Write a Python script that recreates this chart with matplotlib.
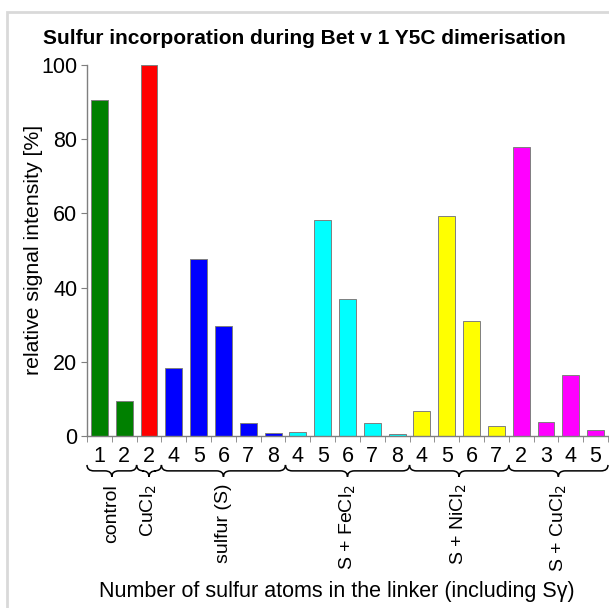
import numpy as np
import matplotlib.pyplot as plt
from matplotlib.path import Path
from matplotlib.patches import PathPatch, Rectangle

plt.rcParams['font.family'] = ['Liberation Sans', 'DejaVu Sans']

# groups of the experiment
groups = ['control', 'CuCl$_2$', 'sulfur (S)', 'S + FeCl$_2$', 'S + NiCl$_2$', 'S + CuCl$_2$']
group_colors = ['#008000', '#ff0000', '#0000ff', '#00ffff', '#ffff00', '#ff00ff']

# number of sulfur atoms for each bar, per group
control_n = ['1', '2']
cucl2_n = ['2']
sulfur_n = ['4', '5', '6', '7', '8']
fecl2_n = ['4', '5', '6', '7', '8']
nicl2_n = ['4', '5', '6', '7']
s_cucl2_n = ['2', '3', '4', '5']

# relative signal intensity [%]
control_vals = [90.7, 9.3]
cucl2_vals = [100.0]
sulfur_vals = [18.3, 47.8, 29.6, 3.5, 0.9]
fecl2_vals = [1.0, 58.2, 36.8, 3.6, 0.5]
nicl2_vals = [6.8, 59.4, 31.0, 2.8]
s_cucl2_vals = [78.0, 3.9, 16.5, 1.7]

all_n = [control_n, cucl2_n, sulfur_n, fecl2_n, nicl2_n, s_cucl2_n]
all_vals = [control_vals, cucl2_vals, sulfur_vals, fecl2_vals, nicl2_vals, s_cucl2_vals]

labels, values, colors, spans = [], [], [], []
for n, v, c in zip(all_n, all_vals, group_colors):
    start = len(labels)
    labels += n
    values += v
    colors += [c] * len(v)
    spans.append((start - 0.5, len(labels) - 0.5))

fig = plt.figure(figsize=(6.09, 6.08), dpi=100)
ax = fig.add_axes([87 / 609, 1 - 436 / 608, 521 / 609, 371 / 608])

x = np.arange(len(values))
ax.bar(x, values, width=0.68, color=colors, edgecolor='#7f7f7f', linewidth=0.7)

ax.set_xlim(-0.5, len(values) - 0.5)
ax.set_ylim(0, 100)
ax.set_yticks([0, 20, 40, 60, 80, 100])
ax.set_xticks(x)
ax.set_xticklabels(labels)
ax.set_xticks(np.arange(len(values) + 1) - 0.5, minor=True)
ax.tick_params(axis='x', which='major', length=0, pad=7, labelsize=15.5)
ax.tick_params(axis='x', which='minor', length=4, color='#7f7f7f', direction='out')
ax.tick_params(axis='y', length=4, color='#7f7f7f', labelsize=15.5, pad=3)

for s in ['top', 'right']:
    ax.spines[s].set_visible(False)
for s in ['left', 'bottom']:
    ax.spines[s].set_color('#7f7f7f')
    ax.spines[s].set_linewidth(1)


# curly braces below the tick labels
def brace(x0, x1, y_end=-7.8, y_body=-9.4, y_tip=-11.0, r=0.28):
    xm = (x0 + x1) / 2
    verts = [(x0, y_end), (x0, y_body), (x0 + r, y_body),
             (xm - r, y_body), (xm, y_body), (xm, y_tip),
             (xm, y_body), (xm + r, y_body),
             (x1 - r, y_body), (x1, y_body), (x1, y_end)]
    codes = [Path.MOVETO, Path.CURVE3, Path.CURVE3,
             Path.LINETO, Path.CURVE3, Path.CURVE3,
             Path.CURVE3, Path.CURVE3,
             Path.LINETO, Path.CURVE3, Path.CURVE3]
    ax.add_patch(PathPatch(Path(verts, codes), facecolor='none', edgecolor='black',
                           linewidth=1.1, clip_on=False))


for g, (x0, x1) in zip(groups, spans):
    brace(x0, x1)
    ax.text((x0 + x1) / 2, -12.9, g, rotation=90, ha='center', va='top', fontsize=14,
            clip_on=False)

fig.text(34 / 609, 1 - 250 / 608, 'relative signal intensity [%]', rotation=90,
         ha='center', va='center', fontsize=15.3)
fig.text(337 / 609, 1 - 591 / 608, 'Number of sulfur atoms in the linker (including Sγ)',
         ha='center', va='center', fontsize=15.5)
fig.text(304 / 609, 1 - 38 / 608, 'Sulfur incorporation during Bet v 1 Y5C dimerisation',
         ha='center', va='center', fontsize=15, fontweight='bold')

# light frame around the figure
fig.patches.append(Rectangle((7 / 609, -0.1), 1.2, 1 - 12 / 608 + 0.1, transform=fig.transFigure,
                             facecolor='none', edgecolor='#d9d9d9', linewidth=2))

fig.savefig('out.png', dpi=100)
